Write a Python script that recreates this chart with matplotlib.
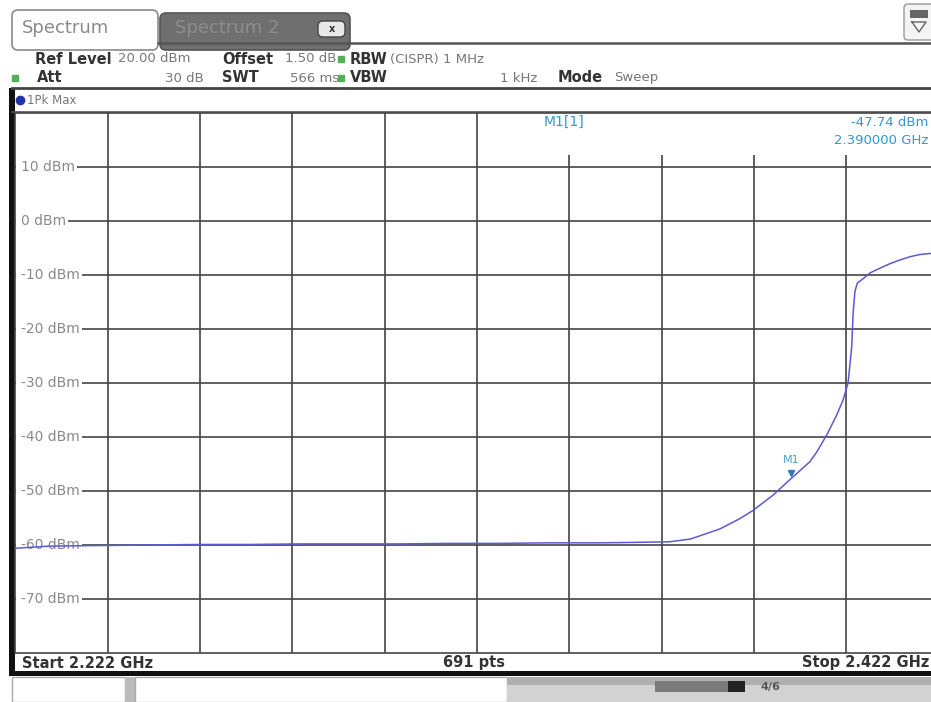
import matplotlib.pyplot as plt
from matplotlib.patches import Rectangle, FancyBboxPatch

# trace
freq_mhz = [2222.0, 2229.5, 2240.3, 2251.1, 2262.0, 2272.8, 2283.6, 2294.5, 2305.3, 2316.1,
            2327.0, 2337.8, 2348.7, 2357.3, 2363.8, 2368.2, 2370.3, 2374.7, 2379.0, 2381.8,
            2386.1, 2390.0, 2394.1, 2395.6, 2397.8, 2399.9, 2401.3, 2402.4, 2403.2, 2403.5,
            2403.9, 2404.4, 2405.5, 2407.2, 2409.4, 2411.5, 2413.7, 2415.9, 2418.0, 2420.4, 2422.0]
level_dbm = [-60.6, -60.2, -60.1, -60.0, -59.9, -59.9, -59.8, -59.8, -59.8, -59.7,
             -59.7, -59.6, -59.6, -59.5, -59.4, -58.9, -58.3, -57.0, -55.1, -53.6,
             -50.8, -47.74, -44.6, -42.8, -39.6, -36.0, -33.2, -30.0, -23.3, -17.0,
             -13.0, -11.5, -10.8, -9.6, -8.7, -7.9, -7.2, -6.6, -6.2, -6.0, -5.9]

level_ticks = [10, 0, -10, -20, -30, -40, -50, -60, -70]
level_labels = ["10 dBm", "0 dBm", "-10 dBm", "-20 dBm", "-30 dBm",
                "-40 dBm", "-50 dBm", "-60 dBm", "-70 dBm"]
freq_grid = [2242, 2262, 2282, 2302, 2322, 2342, 2362, 2382, 2402]

marker_freq = 2390.0
marker_level = -47.74

W, H = 931, 702
fig = plt.figure(figsize=(W / 100, H / 100), dpi=100)
fig.patch.set_facecolor("white")

# screen chrome drawn in pixel coords (y down)
bg = fig.add_axes([0, 0, 1, 1], zorder=0)
bg.set_xlim(0, W)
bg.set_ylim(H, 0)
bg.axis("off")

# tabs
bg.add_patch(FancyBboxPatch((12, 10), 146, 40, boxstyle="round,pad=0,rounding_size=6",
                            fc="white", ec="#8a8a8a", lw=1.2))
bg.add_patch(FancyBboxPatch((160, 13), 190, 37, boxstyle="round,pad=0,rounding_size=6",
                            fc="#6f6f6f", ec="#555555", lw=1.2))
bg.add_patch(FancyBboxPatch((318, 21), 27, 16, boxstyle="round,pad=0,rounding_size=5",
                            fc="#e8e8e8", ec="#444444", lw=1))
bg.text(331.5, 29, "x", fontsize=7, ha="center", va="center", color="#333333", weight="bold")
bg.text(22, 28, "Spectrum", fontsize=13, color="#8a8a8a", va="center")
bg.text(175, 28, "Spectrum 2", fontsize=13, color="#8e8e8e", va="center")
bg.add_patch(FancyBboxPatch((904, 4), 32, 36, boxstyle="round,pad=0,rounding_size=4",
                            fc="#f4f4f4", ec="#999999", lw=1))
bg.add_patch(Rectangle((910, 10), 18, 8, fc="#666666", ec="none"))
bg.plot([912, 926, 919, 912], [22, 22, 32, 22], color="#666666", lw=1)

# header box
bg.plot([158, W], [43, 43], color="#555555", lw=1.8)
bg.plot([12, W], [88, 88], color="#444444", lw=2)
bg.plot([12, W], [112, 112], color="#555555", lw=1.2)

lab = dict(fontsize=10.5, va="center", weight="bold", color="#333333")
val = dict(fontsize=9.5, va="center", color="#777777")
bg.text(35, 59, "Ref Level", **lab)
bg.text(118, 59, "20.00 dBm", **val)
bg.text(222, 59, "Offset", **lab)
bg.text(285, 59, "1.50 dB", **val)
bg.text(350, 59, "RBW", **lab)
bg.text(390, 59, "(CISPR) 1 MHz", **val)
bg.text(37, 78, "Att", **lab)
bg.text(204, 78, "30 dB", ha="right", **val)
bg.text(222, 78, "SWT", **lab)
bg.text(290, 78, "566 ms", **val)
bg.text(350, 78, "VBW", **lab)
bg.text(537, 78, "1 kHz", ha="right", **val)
bg.text(558, 78, "Mode", **lab)
bg.text(614, 78, "Sweep", **val)
bg.plot([341, 341, 15], [59, 78, 78], ls="none", marker="s", ms=4, color="#55b055")

bg.plot([20], [100], marker="o", ms=6, color="#2233aa", ls="none")
bg.text(27, 100, "1Pk Max", fontsize=8.5, color="#777777", va="center")

# left frame and bottom bar
bg.add_patch(Rectangle((9, 88), 6, 588, fc="#111111", ec="none"))
bg.add_patch(Rectangle((9, 671), W, 5, fc="#111111", ec="none"))
bg.text(22, 663, "Start 2.222 GHz", fontsize=10.5, weight="bold", color="#333333", va="center")
bg.text(443, 663, "691 pts", fontsize=10.5, weight="bold", color="#333333", va="center")
bg.text(929, 663, "Stop 2.422 GHz", fontsize=10.5, weight="bold", color="#333333",
        va="center", ha="right")

# status strip
bg.add_patch(Rectangle((12, 677), 113, 25, fc="white", ec="#aaaaaa", lw=1))
bg.add_patch(Rectangle((125, 677), 10, 25, fc="#bbbbbb", ec="none"))
bg.add_patch(Rectangle((135, 677), 372, 25, fc="white", ec="#aaaaaa", lw=1))
bg.add_patch(Rectangle((507, 677), W - 507, 25, fc="#d2d2d2", ec="none"))
bg.add_patch(Rectangle((507, 677), W - 507, 8, fc="#b0b0b0", ec="none"))
bg.add_patch(Rectangle((655, 681), 73, 11, fc="#7a7a7a", ec="none"))
bg.add_patch(Rectangle((728, 681), 17, 11, fc="#222222", ec="none"))
bg.text(770, 687, "4/6", fontsize=8, weight="bold", color="#555555", ha="center", va="center")

# the measurement grid, span runs past the right edge of the screenshot
ax = fig.add_axes([15.5 / W, (H - 653) / H, 923 / W, 540 / H], zorder=1)
ax.set_xlim(2222, 2422)
ax.set_ylim(-80, 20)
ax.set_xticks([])
ax.set_yticks([])
for s in ax.spines.values():
    s.set_color("#444444")
    s.set_linewidth(1.2)

for f in freq_grid:
    ax.axvline(f, color="#444444", lw=1.2, zorder=1)
for lv in level_ticks:
    ax.axhline(lv, color="#444444", lw=1.2, zorder=1)

# marker readout panel hides the upper grid on the right
ax.add_patch(Rectangle((2322.6, 12.2), 120, 7.8, fc="white", ec="none", zorder=2))
ax.text(2336.5, 17.6, "M1[1]", fontsize=10, color="#3399cc", zorder=3)
ax.text(0.9885, 17.6, "-47.74 dBm", fontsize=9.5, color="#3399cc", ha="right",
        transform=ax.get_yaxis_transform(), zorder=3)
ax.text(0.9885, 14.2, "2.390000 GHz", fontsize=9.5, color="#3399cc", ha="right",
        transform=ax.get_yaxis_transform(), zorder=3)

# white strip on the left so the grid starts right after each label
ax.add_patch(Rectangle((0.0006, 0), 0.0075, 1, transform=ax.transAxes,
                       fc="white", ec="none", zorder=2))
for lv, txt in zip(level_ticks, level_labels):
    ax.text(0.006, lv, txt, fontsize=10, color="#8a8a8a", va="center",
            transform=ax.get_yaxis_transform(), zorder=2,
            bbox=dict(fc="white", ec="none", pad=1.5))

ax.plot(freq_mhz, level_dbm, color="#5a5ad6", lw=1.1, zorder=4)
ax.plot([marker_freq], [marker_level + 1.0], marker="v", ms=5, color="#3377bb", zorder=5)
ax.text(marker_freq, marker_level + 2.6, "M1", fontsize=8, color="#44a0cc",
        ha="center", va="bottom", zorder=5)

fig.savefig("out.png", dpi=100)
